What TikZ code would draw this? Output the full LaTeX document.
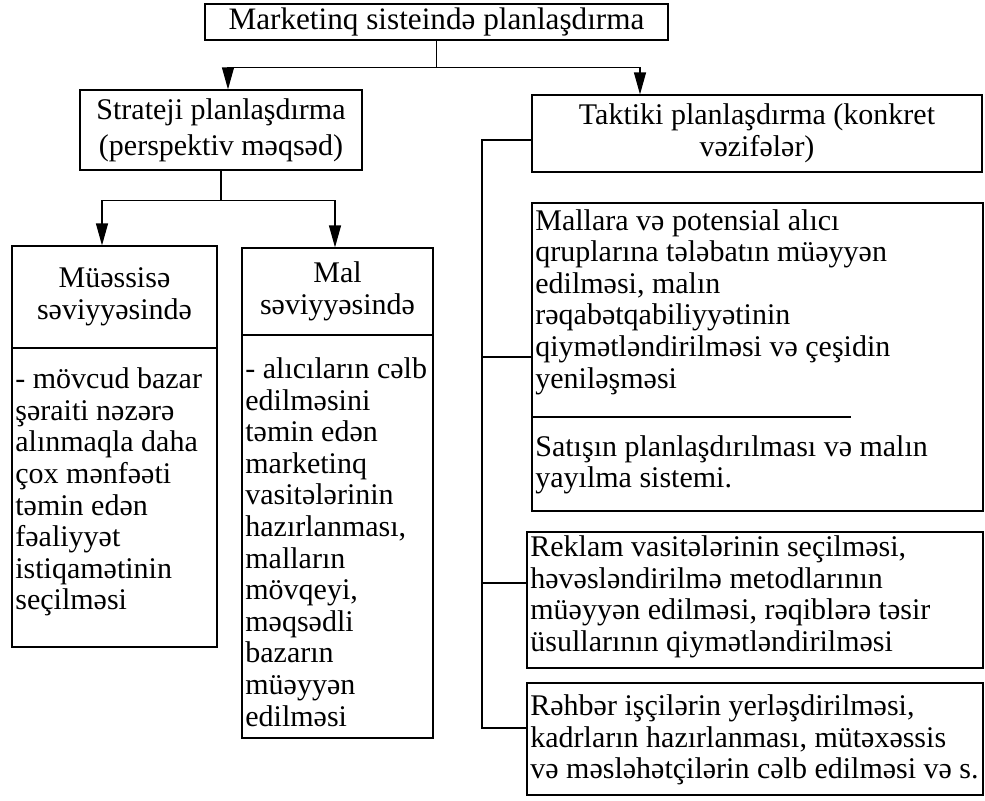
\documentclass[tikz,border=0pt]{standalone}
\usepackage{fontspec}
\setmainfont{Liberation Serif}
\usetikzlibrary{arrows.meta,fit}
\begin{document}
\begin{tikzpicture}[x=0.5pt,y=-0.5pt,
  frame/.style={draw, line width=0.6pt, inner sep=0pt},
  txt/.style={inner sep=0pt, font=\fontsize{15}{15.8}\selectfont},
  ctr/.style={txt, align=center},
  lft/.style={txt, align=left, anchor=west},
  link/.style={line width=0.6pt},
  arr/.style={link, -{Triangle[width=6pt,length=11pt]}},
  bus/.style={line width=1.2pt}]
\useasboundingbox (0,0) rectangle (985,800);

% frames
\node[frame, fit={(205,4) (668,40)}] (top) {};
\node[frame, fit={(80,90) (362,170)}] (strat) {};
\node[frame, fit={(532,95) (982,172)}] (takt) {};
\node[frame, fit={(12,246) (217,348)}] (muesh) {};
\node[frame, fit={(12,348) (217,647)}] (muesb) {};
\node[frame, fit={(242,248) (433,335)}] (malh) {};
\node[frame, fit={(242,335) (433,738)}] (malb) {};
\node[frame, fit={(532,203) (983,511)}] (box1) {};
\node[frame, fit={(527,532) (983,668)}] (box2) {};
\node[frame, fit={(527,683) (983,795)}] (box3) {};

% texts
\node[ctr, font=\fontsize{15.6}{16}\selectfont] at (top.center) {Marketinq sisteində planlaşdırma};
\node[ctr] at (strat.center) {Strateji planlaşdırma\\[2pt](perspektiv məqsəd)};
\node[ctr] at (takt.center) {Taktiki planlaşdırma (konkret\\vəzifələr)};
\node[ctr] at (muesh.center) {Müəssisə\\səviyyəsində};
\node[ctr] at (malh.center) {Mal\\səviyyəsində};
\node[lft] at (15,492) {- mövcud bazar\\şəraiti nəzərə\\alınmaqla daha\\çox mənfəəti\\təmin edən\\fəaliyyət\\istiqamətinin\\seçilməsi};
\node[lft] at (245,542) {- alıcıların cəlb\\edilməsini\\təmin edən\\marketinq\\vasitələrinin\\hazırlanması,\\malların\\mövqeyi,\\məqsədli\\bazarın\\müəyyən\\edilməsi};
\node[lft] at (535,302) {Mallara və potensial alıcı\\qruplarına tələbatın müəyyən\\edilməsi, malın\\rəqabətqabiliyyətinin\\qiymətləndirilməsi və çeşidin\\yeniləşməsi};
\node[lft] at (535,465) {Satışın planlaşdırılması və malın\\yayılma sistemi.};
\node[lft] at (530,597) {Reklam vasitələrinin seçilməsi,\\həvəsləndirilmə metodlarının\\müəyyən edilməsi, rəqiblərə təsir\\üsullarının qiymətləndirilməsi};
\node[lft] at (530,740) {Rəhbər işçilərin yerləşdirilməsi,\\kadrların hazırlanması, mütəxəssis\\və məsləhətçilərin cəlb edilməsi və s.};

% partial divider inside the first task box
\coordinate (d1) at (532,417);
\coordinate (d2) at (851,417);
\draw[link] (d1) -- (d2);

% top level split
\coordinate (al) at (228,0);
\coordinate (ar) at (640,0);
\draw[link] (top.south) -- ++(0,27) coordinate (tj);
\draw[arr] (tj) -| (strat.north -| al);
\draw[arr] (tj) -| (takt.north -| ar);

% strategic split
\coordinate (bl) at (102,0);
\coordinate (br) at (335,0);
\draw[link] (strat.south) -- ++(0,30) coordinate (sj);
\draw[arr] (sj) -| (muesh.north -| bl);
\draw[arr] (sj) -| (malh.north -| br);

% tactical bus
\coordinate (bx) at (482,0);
\coordinate (e0) at (532,140);
\coordinate (e2) at (527,583);
\coordinate (e3) at (527,728);
\draw[bus] (e0) -- (e0 -| bx) -- (e3 -| bx) -- (e3);
\draw[bus] (box1.west -| bx) -- (box1.west);
\draw[bus] (e2 -| bx) -- (e2);
\end{tikzpicture}
\end{document}
